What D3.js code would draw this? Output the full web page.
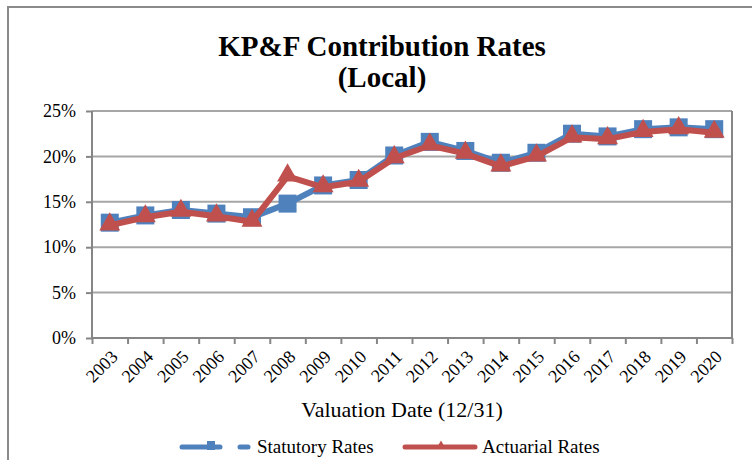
<!DOCTYPE html>
<html>
<head>
<meta charset="utf-8">
<script src="https://cdn.jsdelivr.net/npm/d3@7"></script>
<style>
  body { margin: 0; background: #fff; }
  svg { display: block; font-family: "Liberation Serif", "Times New Roman", serif; }
  .axis path, .axis line { stroke: #868686; }
  .axis text { fill: #000; }
</style>
</head>
<body>
<div id="chart"></div>
<script>
const years = ['2003', '2004', '2005', '2006', '2007', '2008', '2009', '2010', '2011',
  '2012', '2013', '2014', '2015', '2016', '2017', '2018', '2019', '2020'];
const statutoryRates = [12.7, 13.5, 14.1, 13.7, 13.3, 14.8, 16.8, 17.4, 20.1,
  21.6, 20.6, 19.3, 20.4, 22.5, 22.2, 23.0, 23.2, 23.0];
const actuarialRates = [12.4, 13.3, 13.9, 13.4, 12.8, 17.8, 16.6, 17.2, 19.8,
  21.2, 20.3, 18.9, 20.0, 22.1, 21.9, 22.7, 23.0, 22.6];
const yTicks = [0, 5, 10, 15, 20, 25];

const width = 752;
const height = 460;

// plot area in px
const plot = { left: 92, right: 732, top: 111, bottom: 338 };

const blue = '#4f81bd';
const red = '#c0504d';

const svg = d3.select('#chart').append('svg')
  .attr('width', width)
  .attr('height', height);

// outer chart frame (runs off the right and bottom edges)
svg.append('rect')
  .attr('x', 8).attr('y', 7)
  .attr('width', 820).attr('height', 520)
  .attr('fill', '#fff')
  .attr('stroke', '#8a8a8a')
  .attr('stroke-width', 2);

const x = d3.scaleBand()
  .domain(years)
  .range([plot.left, plot.right]);

const xEdges = d3.scaleLinear()
  .domain([0, years.length])
  .range([plot.left, plot.right]);

const y = d3.scaleLinear()
  .domain([0, 25])
  .range([plot.bottom, plot.top]);

const cx = d => x(d) + x.bandwidth() / 2;

// gridlines
svg.append('g')
  .selectAll('line')
  .data(yTicks.filter(t => t > 0))
  .join('line')
    .attr('x1', plot.left).attr('x2', plot.right)
    .attr('y1', d => y(d)).attr('y2', d => y(d))
    .attr('stroke', '#a6a6a6')
    .attr('stroke-width', 2);

// right border of plot
svg.append('line')
  .attr('x1', plot.right).attr('x2', plot.right)
  .attr('y1', plot.top).attr('y2', plot.bottom)
  .attr('stroke', '#868686').attr('stroke-width', 2);

// y axis
svg.append('g')
  .attr('class', 'axis')
  .attr('transform', `translate(${plot.left}, 0)`)
  .call(d3.axisLeft(y).tickValues(yTicks).tickFormat(d => d + '%').tickSize(6).tickPadding(10))
  .attr('font-family', null)
  .attr('font-size', 18)
  .call(g => g.selectAll('path, line').attr('stroke-width', 2))
  .call(g => g.select('.domain').attr('d', `M0,${plot.top}V${plot.bottom}`));

// x axis: ticks on category edges
svg.append('g')
  .attr('class', 'axis')
  .attr('transform', `translate(0, ${plot.bottom})`)
  .call(d3.axisBottom(xEdges).tickValues(d3.range(years.length + 1)).tickFormat('').tickSize(6))
  .call(g => g.selectAll('path, line').attr('stroke-width', 2))
  .call(g => g.select('.domain').attr('d', `M${plot.left},0H${plot.right}`));

// x labels, rotated
svg.append('g')
  .selectAll('text')
  .data(years)
  .join('text')
    .attr('text-anchor', 'end')
    .attr('font-size', 18)
    .attr('transform', d => `translate(${cx(d) + 9}, ${plot.bottom + 20}) rotate(-45)`)
    .text(d => d);

// title
const title = svg.append('text')
  .attr('text-anchor', 'middle')
  .attr('font-size', 29)
  .attr('font-weight', 'bold');
title.append('tspan').attr('x', 382).attr('y', 56).text('KP&F Contribution Rates');
title.append('tspan').attr('x', 382).attr('y', 87).text('(Local)');

// x axis title
svg.append('text')
  .attr('x', 402).attr('y', 417)
  .attr('text-anchor', 'middle')
  .attr('font-size', 22)
  .text('Valuation Date (12/31)');

const line = values => d3.line()
  .x((v, i) => cx(years[i]))
  .y(v => y(v))(values);

// statutory series
svg.append('path')
  .attr('d', line(statutoryRates))
  .attr('fill', 'none')
  .attr('stroke', blue)
  .attr('stroke-width', 6)
  .attr('stroke-linejoin', 'round');

svg.append('g')
  .selectAll('rect')
  .data(statutoryRates)
  .join('rect')
    .attr('x', (v, i) => cx(years[i]) - 9)
    .attr('y', v => y(v) - 9)
    .attr('width', 18).attr('height', 18)
    .attr('fill', blue);

// actuarial series
svg.append('path')
  .attr('d', line(actuarialRates))
  .attr('fill', 'none')
  .attr('stroke', red)
  .attr('stroke-width', 6)
  .attr('stroke-linejoin', 'round');

const tri = d3.symbol().type(d3.symbolTriangle).size(190);
svg.append('g')
  .selectAll('path')
  .data(actuarialRates)
  .join('path')
    .attr('d', tri)
    .attr('transform', (v, i) => `translate(${cx(years[i])}, ${y(v) - 1})`)
    .attr('fill', red);

// legend
const legend = svg.append('g');
legend.append('line')
  .attr('x1', 182).attr('x2', 220).attr('y1', 447).attr('y2', 447)
  .attr('stroke', blue).attr('stroke-width', 5).attr('stroke-linecap', 'round');
legend.append('rect')
  .attr('x', 207).attr('y', 441).attr('width', 8).attr('height', 9)
  .attr('fill', blue);
legend.append('line')
  .attr('x1', 240).attr('x2', 248).attr('y1', 447).attr('y2', 447)
  .attr('stroke', blue).attr('stroke-width', 5).attr('stroke-linecap', 'round');
legend.append('text')
  .attr('x', 257).attr('y', 453)
  .attr('font-size', 19)
  .text('Statutory Rates');

legend.append('line')
  .attr('x1', 405).attr('x2', 475).attr('y1', 447).attr('y2', 447)
  .attr('stroke', red).attr('stroke-width', 5).attr('stroke-linecap', 'round');
legend.append('path')
  .attr('d', d3.symbol().type(d3.symbolTriangle).size(40))
  .attr('transform', 'translate(441, 446)')
  .attr('fill', red);
legend.append('text')
  .attr('x', 482).attr('y', 453)
  .attr('font-size', 19)
  .text('Actuarial Rates');
</script>
</body>
</html>
